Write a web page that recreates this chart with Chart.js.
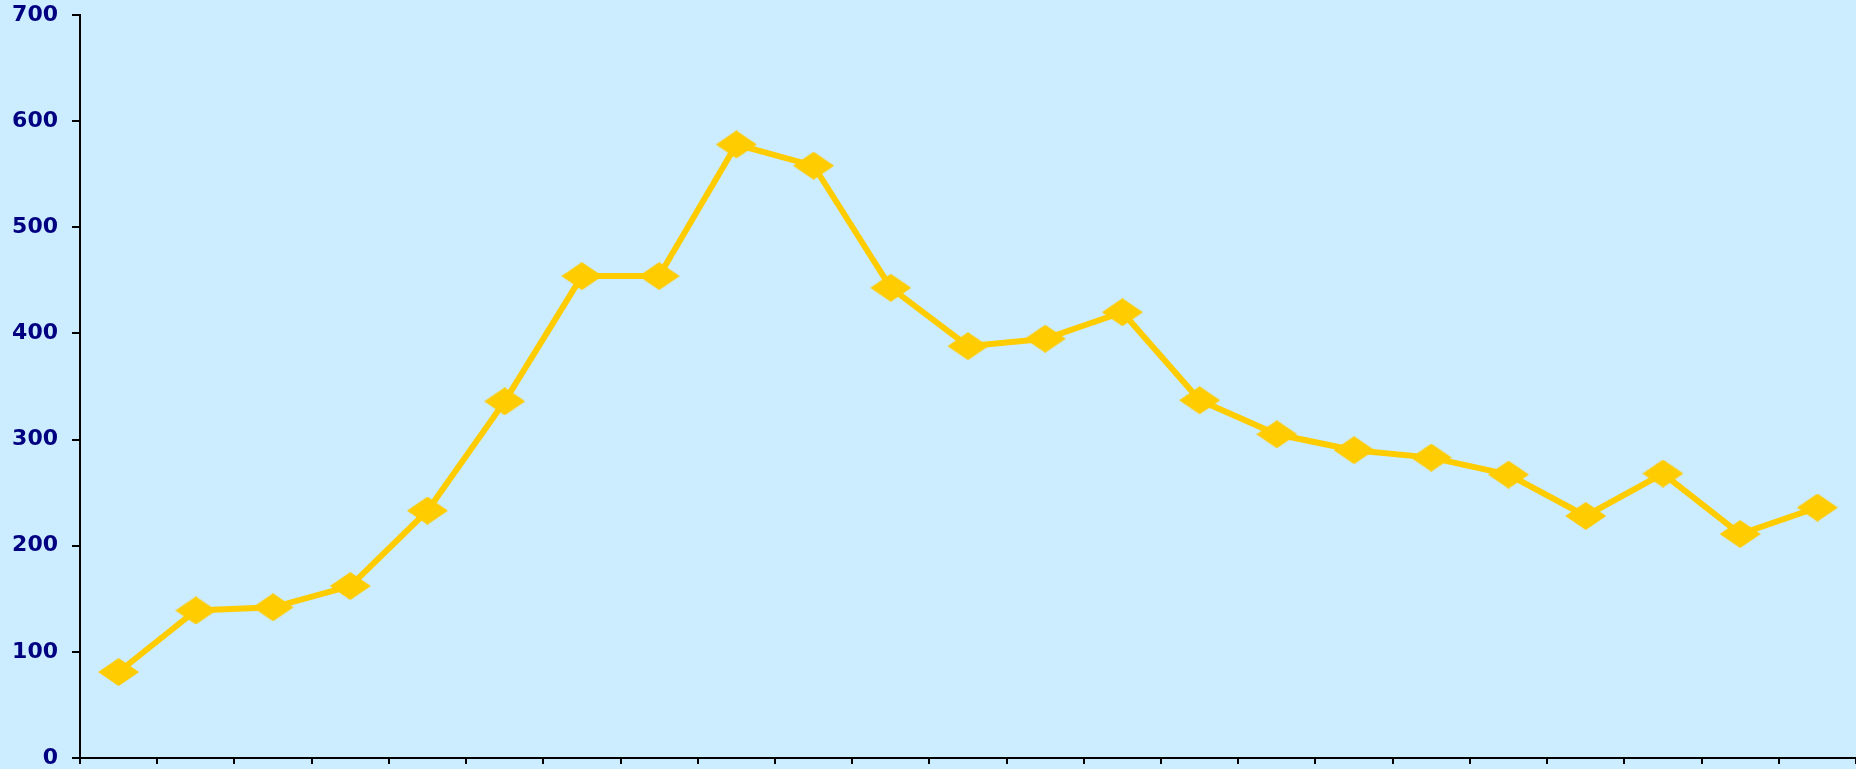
<!DOCTYPE html>
<html>
<head>
<meta charset="utf-8">
<script src="https://cdn.jsdelivr.net/npm/chart.js@4"></script>
<style>
  html, body { margin: 0; padding: 0; background: #CCECFF; overflow: hidden; }
  #wrap { width: 1856px; height: 769px; }
  canvas { display: block; }
</style>
</head>
<body>
<div id="wrap"><canvas id="lineChart" width="1856" height="769"></canvas></div>
<script>
// values
const categories = ['1', '2', '3', '4', '5', '6', '7', '8', '9', '10', '11', '12',
                    '13', '14', '15', '16', '17', '18', '19', '20', '21', '22', '23'];
const seriesValues = [81, 139, 142, 162, 233, 336, 454, 454, 578, 558, 443, 388,
                      395, 420, 337, 305, 290, 283, 267, 228, 268, 211, 236];
const yTicks = [0, 100, 200, 300, 400, 500, 600, 700];

// flattened diamond used as the marker
function makeDiamond(w, h, color) {
    const c = document.createElement('canvas');
    c.width = w;
    c.height = h;
    const g = c.getContext('2d');
    g.fillStyle = color;
    g.beginPath();
    g.moveTo(w / 2, 0);
    g.lineTo(w, h / 2);
    g.lineTo(w / 2, h);
    g.lineTo(0, h / 2);
    g.closePath();
    g.fill();
    return c;
}

// drop the padding chart.js keeps for edge labels
function noPadding(scale) {
    scale.paddingTop = 0;
    scale.paddingBottom = 0;
    scale.paddingLeft = 0;
    scale.paddingRight = 0;
}

const marker = makeDiamond(41, 28, '#FFCC00');
const ctx = document.getElementById('lineChart').getContext('2d');

new Chart(ctx, {
    type: 'line',
    data: {
        labels: categories,
        datasets: [{
            data: seriesValues,
            borderColor: '#FFCC00',
            borderWidth: 6,
            pointStyle: marker,
            pointRadius: 20,
            pointHoverRadius: 20,
            tension: 0,
            clip: false
        }]
    },
    options: {
        responsive: false,
        animation: false,
        layout: {
            autoPadding: false,
            padding: { top: 15, right: 0, bottom: 0, left: 0 }
        },
        plugins: {
            legend: { display: false },
            tooltip: { enabled: false }
        },
        scales: {
            x: {
                type: 'category',
                offset: true,
                grid: {
                    offset: true,
                    drawOnChartArea: false,
                    drawTicks: true,
                    tickLength: 6,
                    color: '#000000',
                    lineWidth: 2
                },
                border: { display: true, color: '#000000', width: 2 },
                ticks: { display: false },
                afterFit: scale => {
                    scale.height = 11;
                    noPadding(scale);
                }
            },
            y: {
                min: 0,
                max: 700,
                afterBuildTicks: scale => {
                    scale.ticks = yTicks.map(v => ({ value: v }));
                },
                grid: {
                    drawOnChartArea: false,
                    drawTicks: true,
                    tickLength: 8,
                    color: '#000000',
                    lineWidth: 2
                },
                border: { display: true, color: '#000000', width: 2 },
                ticks: {
                    color: '#000080',
                    padding: 14,
                    font: { family: 'DejaVu Sans', size: 22, weight: 'bold' }
                },
                afterFit: scale => {
                    scale.width = 80;
                    noPadding(scale);
                }
            }
        }
    }
});
</script>
</body>
</html>
